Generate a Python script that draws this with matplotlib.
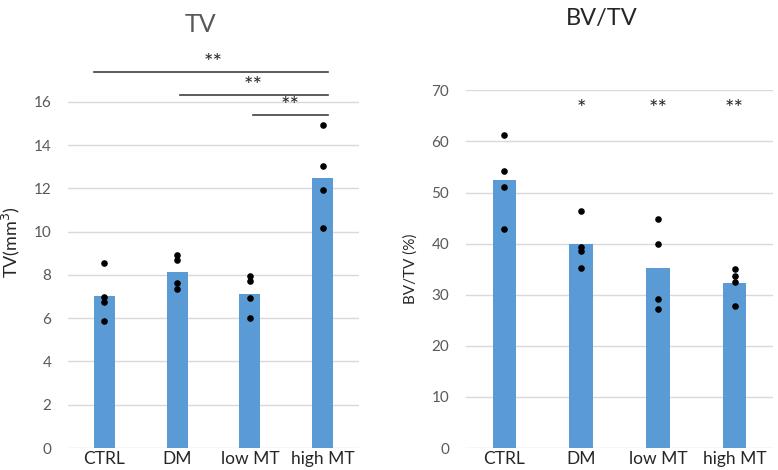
import numpy as np
import matplotlib.pyplot as plt

plt.rcParams['font.family'] = ['Lato', 'DejaVu Sans']

groups = ['CTRL', 'DM', 'low MT', 'high MT']

tv_mean = [7.04, 8.13, 7.13, 12.47]
tv_points = [[8.56, 6.98, 6.75, 5.89],
             [8.93, 8.71, 7.62, 7.36],
             [7.95, 7.70, 6.95, 6.01],
             [14.91, 13.04, 11.92, 10.16]]

bvtv_mean = [52.4, 39.95, 35.3, 32.3]
bvtv_points = [[61.3, 54.25, 51.0, 42.9],
               [46.4, 39.3, 38.6, 35.3],
               [44.75, 39.95, 29.2, 27.2],
               [35.1, 33.6, 32.4, 27.8]]
bvtv_stars = ['', '*', '**', '**']

# brackets for TV: (start group, end group, height)
tv_brackets = [(0, 3, 17.38), (1, 3, 16.32), (2, 3, 15.38)]

bar_color = '#5B9BD5'
grid_color = '#D9D9D9'
tick_color = '#595959'

fig = plt.figure(figsize=(7.78, 4.70), dpi=100)


def style_axes(ax, yticks):
    x = np.arange(len(groups))
    ax.set_xlim(-0.5, len(groups) - 0.5)
    ax.set_yticks(yticks)
    for s in ax.spines.values():
        s.set_visible(False)
    for t in yticks:
        ax.axhline(t, color=grid_color, lw=1, zorder=0)
    ax.set_xticks(x)
    ax.set_xticklabels(groups, fontsize=12.5, color='#262626')
    ax.tick_params(axis='both', length=0)
    ax.tick_params(axis='x', pad=2)
    ax.tick_params(axis='y', pad=12, labelsize=11, labelcolor=tick_color)
    return x


# ---- TV ----
ax1 = fig.add_axes([68 / 778, 22 / 470, 291 / 778, 411 / 470])
x = style_axes(ax1, np.arange(0, 17, 2))
ax1.set_ylim(0, 19.0)
ax1.bar(x, tv_mean, width=0.29, color=bar_color, zorder=2)
for i, pts in enumerate(tv_points):
    ax1.scatter([x[i]] * len(pts), pts, s=14, color='black', zorder=3)
for a, b, h in tv_brackets:
    ax1.plot([a - 0.14 if a == 0 else a + 0.04, b + 0.08], [h, h],
             color='#404040', lw=1.2, clip_on=False)
    ax1.text((a + b) / 2 + 0.05 if a > 0 else 1.5, h - 0.05, '**',
             ha='center', va='bottom', fontsize=16, color='#262626')
ax1.set_ylabel('TV(mm$^3$)', fontsize=13, color='#262626', labelpad=8)
fig.text(200 / 778, 1 - 25 / 470, 'TV', ha='center', va='center',
         fontsize=18, color=tick_color)

# ---- BV/TV ----
ax2 = fig.add_axes([466 / 778, 22 / 470, 307 / 778, 357.7 / 470])
x = style_axes(ax2, np.arange(0, 71, 10))
ax2.set_ylim(0, 70)
ax2.bar(x, bvtv_mean, width=0.307, color=bar_color, zorder=2)
for i, pts in enumerate(bvtv_points):
    ax2.scatter([x[i]] * len(pts), pts, s=14, color='black', zorder=3)
for i, st in enumerate(bvtv_stars):
    if st:
        ax2.text(x[i], 64.3, st, ha='center', va='bottom',
                 fontsize=16, color='#262626')
ax2.set_ylabel('BV/TV (%)', fontsize=11, color='#262626', labelpad=10)
fig.text(602 / 778, 1 - 19 / 470, 'BV/TV', ha='center', va='center',
         fontsize=17, color='#262626')

fig.savefig('out.png', dpi=100)
